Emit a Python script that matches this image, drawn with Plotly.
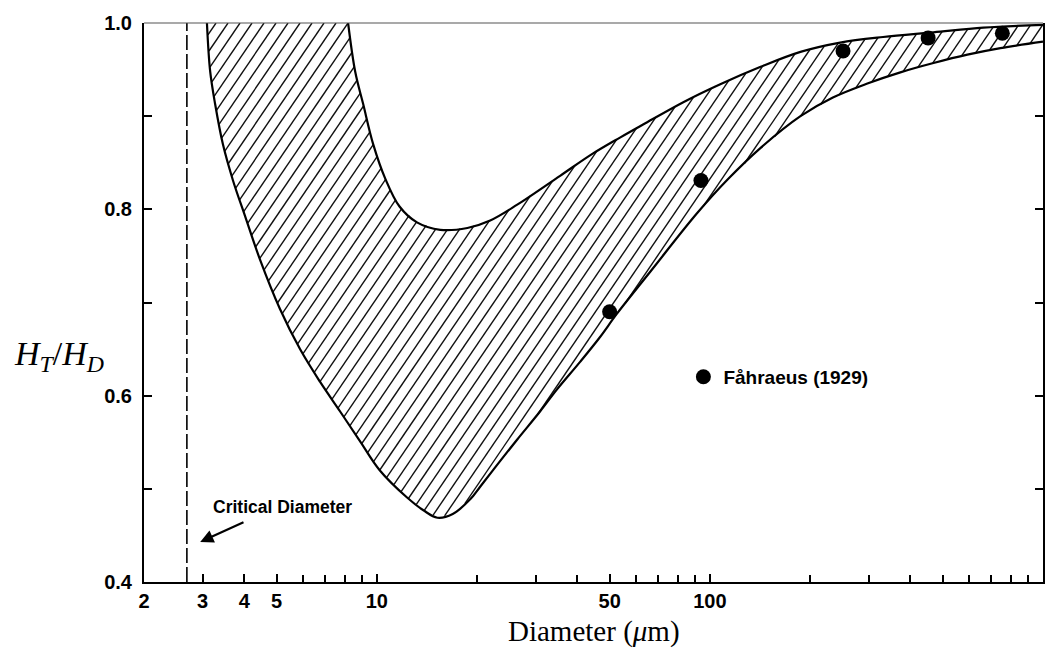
import numpy as np
import plotly.graph_objects as go

# ---- data -------------------------------------------------------------
# Outer boundary of the band (left descending branch + lower right branch)
LOWER_D = [3.09, 3.16, 3.27, 3.45, 3.70, 4.02, 4.46, 5.12, 5.88, 6.75, 7.76, 8.91,
           10.2, 12.3, 13.8, 15.2, 16.9, 19.1, 20.4, 23.0, 26.4, 30.9, 34.8, 40.7,
           46.8, 52.6, 66.2, 91.6, 113, 142, 187, 234, 297, 373, 469, 593, 745, 1000]
LOWER_H = [1.0, 0.948, 0.913, 0.870, 0.831, 0.793, 0.746, 0.693, 0.650, 0.615, 0.583, 0.551,
           0.520, 0.491, 0.477, 0.469, 0.473, 0.489, 0.502, 0.526, 0.553, 0.583, 0.607, 0.636,
           0.663, 0.688, 0.733, 0.796, 0.832, 0.866, 0.900, 0.920, 0.935, 0.947, 0.957, 0.966,
           0.973, 0.980]

# Inner boundary of the band (upper curve)
UPPER_D = [8.2, 8.61, 9.10, 9.75, 10.6, 11.7, 13.2, 15.5, 18.7, 21.9, 26.4, 35.5, 44.6,
           53.7, 63.0, 83.2, 107, 142, 187, 246, 331, 469, 662, 1000]
UPPER_H = [1.0, 0.948, 0.913, 0.870, 0.833, 0.803, 0.786, 0.778, 0.780, 0.788, 0.805, 0.836,
           0.860, 0.877, 0.891, 0.915, 0.934, 0.953, 0.969, 0.979, 0.985, 0.990, 0.995, 0.998]

# Fåhraeus (1929) measurements
FAHRAEUS_D = [50, 94, 251, 452, 755]
FAHRAEUS_H = [0.690, 0.831, 0.970, 0.984, 0.989]

CRITICAL_D = 2.69

X_TICKS = [2, 3, 4, 5, 10, 50, 100, 1000]
X_TICKTEXT = ["2", "3", "4", "5", "10", "50", "100", "1000"]
X_MINOR = [6, 7, 8, 9, 20, 30, 40, 60, 70, 80, 90,
           200, 300, 400, 500, 600, 700, 800, 900]
Y_TICKS = [0.4, 0.6, 0.8, 1.0]
Y_TICKTEXT = ["0.4", "0.6", "0.8", "1.0"]
Y_MINOR = [0.5, 0.7, 0.9]

# ---- layout geometry --------------------------------------------------
FIG_W, FIG_H = 1063, 657
MARGIN = dict(l=144, r=20, t=18, b=75)
X_RANGE = (2, 1000)
Y_RANGE = (0.4, 1.0)
PLOT_W = FIG_W - MARGIN["l"] - MARGIN["r"]
PLOT_H = FIG_H - MARGIN["t"] - MARGIN["b"]
LX0, LX1 = np.log10(X_RANGE[0]), np.log10(X_RANGE[1])

# ---- hatching of the band ---------------------------------------------
HATCH_ANGLE = 56.0      # degrees from horizontal, on screen
HATCH_SPACING = 12.0    # horizontal distance between hatch lines, px


def in_band(logd, h):
    lo = np.interp(logd, np.log10(LOWER_D), LOWER_H)
    hi = np.minimum(np.interp(logd, np.log10(UPPER_D), UPPER_H), 1.0)
    return (logd >= np.log10(LOWER_D[0])) & (logd <= LX1) & (h >= lo) & (h <= hi)


def hatch_segments():
    k = np.tan(np.radians(HATCH_ANGLE))
    v = np.arange(0.0, PLOT_H + 0.25, 0.25)
    hx, hy = [], []
    for c in np.arange(-PLOT_H / k, PLOT_W + HATCH_SPACING, HATCH_SPACING):
        u = c + v / k
        logd = LX0 + u / PLOT_W * (LX1 - LX0)
        h = Y_RANGE[0] + v / PLOT_H * (Y_RANGE[1] - Y_RANGE[0])
        m = in_band(logd, h).astype(int)
        if not m.any():
            continue
        edges = np.diff(np.concatenate([[0], m, [0]]))
        starts = np.where(edges == 1)[0]
        ends = np.where(edges == -1)[0] - 1
        for a, b in zip(starts, ends):
            if b <= a:
                continue
            hx += [10 ** logd[a], 10 ** logd[b], None]
            hy += [h[a], h[b], None]
    return hx, hy


hx, hy = hatch_segments()

fig = go.Figure()

fig.add_trace(go.Scatter(x=hx, y=hy, mode="lines",
                         line=dict(color="#111111", width=1.4),
                         hoverinfo="skip", showlegend=False))

fig.add_trace(go.Scatter(x=LOWER_D, y=LOWER_H, mode="lines",
                         line=dict(color="black", width=2.2, shape="spline", smoothing=1.0),
                         showlegend=False))
fig.add_trace(go.Scatter(x=UPPER_D, y=UPPER_H, mode="lines",
                         line=dict(color="black", width=2.2, shape="spline", smoothing=1.0),
                         showlegend=False))

# critical diameter
fig.add_trace(go.Scatter(x=[CRITICAL_D, CRITICAL_D], y=list(Y_RANGE), mode="lines",
                         line=dict(color="black", width=1.6, dash="15px,4px"),
                         showlegend=False))

fig.add_trace(go.Scatter(x=FAHRAEUS_D, y=FAHRAEUS_H, mode="markers",
                         marker=dict(color="black", size=15),
                         name="Fåhraeus (1929)", showlegend=True))

tick_font = dict(family="Liberation Sans, Arial, sans-serif", size=20,
                 color="black", weight="bold")

fig.update_xaxes(type="log", range=[LX0, LX1], showgrid=False, zeroline=False,
                 showline=True, linecolor="black", linewidth=2,
                 ticks="inside", ticklen=8, tickwidth=1.5, tickcolor="black",
                 tickmode="array", tickvals=X_TICKS, ticktext=X_TICKTEXT,
                 tickfont=tick_font, ticklabelstandoff=0,
                 minor=dict(tickmode="array", tickvals=X_MINOR, ticks="inside",
                            ticklen=7, tickwidth=1.5, tickcolor="black", showgrid=False))

fig.update_yaxes(range=list(Y_RANGE), showgrid=False, zeroline=False,
                 showline=True, linecolor="black", linewidth=2, mirror="ticks",
                 ticks="inside", ticklen=8, tickwidth=1.5, tickcolor="black",
                 tickmode="array", tickvals=Y_TICKS, ticktext=Y_TICKTEXT,
                 tickfont=tick_font, ticklabelstandoff=6,
                 minor=dict(tickmode="array", tickvals=Y_MINOR, ticks="inside",
                            ticklen=8, tickwidth=1.5, tickcolor="black", showgrid=False))

serif = "Liberation Serif, Times New Roman, serif"

fig.update_layout(
    width=FIG_W, height=FIG_H, margin=MARGIN,
    paper_bgcolor="white", plot_bgcolor="white",
    showlegend=True,
    legend=dict(x=0.6, y=0.367, xanchor="left", yanchor="middle",
                bgcolor="rgba(0,0,0,0)", borderwidth=0,
                font=dict(family="Liberation Sans, Arial, sans-serif", size=19,
                          color="black", weight="bold")),
    shapes=[dict(type="line", xref="paper", yref="paper", x0=0, x1=1, y0=1, y1=1,
                 line=dict(color="#555555", width=1.2))],
    annotations=[
        dict(text="<i>H</i><sub><i>T</i></sub>/<i>H</i><sub><i>D</i></sub>",
             xref="paper", yref="paper", x=-0.0946, y=0.405,
             xanchor="center", yanchor="middle", showarrow=False,
             font=dict(family=serif, size=34, color="black")),
        dict(text="Diameter (<i>μ</i>m)", xref="paper", yref="paper",
             x=0.5, y=-0.0887, xanchor="center", yanchor="middle", showarrow=False,
             font=dict(family=serif, size=29, color="black")),
        dict(text="Critical Diameter", xref="paper", yref="paper",
             x=0.1546, y=0.1348, xanchor="center", yanchor="middle", showarrow=False,
             font=dict(family="Liberation Sans, Arial, sans-serif", size=17.5,
                       color="black", weight="bold")),
        dict(text="", x=np.log10(2.95), y=0.443, ax=np.log10(4.02), ay=0.465,
             xref="x", yref="y", axref="x", ayref="y",
             showarrow=True, arrowhead=2, arrowsize=1.2, arrowwidth=2.2,
             arrowcolor="black"),
    ],
)

fig.write_html("out.html")
